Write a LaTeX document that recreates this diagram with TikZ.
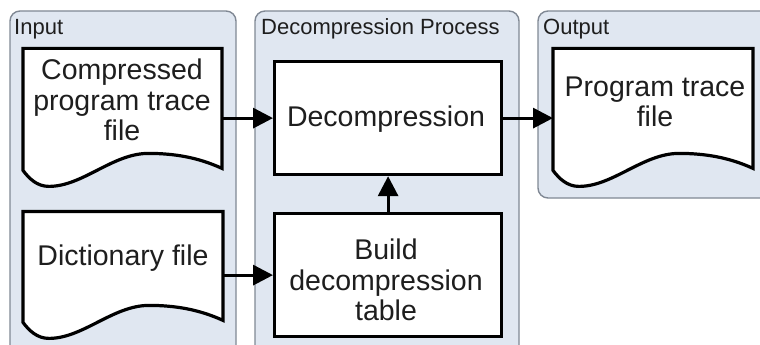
\documentclass[tikz,border=0pt]{standalone}
\usepackage{fontspec}
\setmainfont{Liberation Sans}
\usetikzlibrary{arrows.meta,calc}

\definecolor{groupfill}{RGB}{224,231,241}
\definecolor{groupedge}{RGB}{128,136,148}
\definecolor{inkdark}{RGB}{30,30,30}

\tikzset{
  group/.style={draw=groupedge, line width=1.4pt, fill=groupfill, rounded corners=10pt},
  grouplabel/.style={anchor=base west, inner sep=0pt, text=inkdark,
    font=\fontsize{22}{26}\selectfont},
  procbox/.style={draw=black, line width=3.2pt, fill=white, anchor=north west,
    inner sep=0pt},
  docarea/.style={anchor=north west, inner sep=0pt},
  docline/.style={draw=black, line width=3.2pt, fill=white, line join=miter},
  txt/.style={align=center, inner sep=0pt, text=inkdark,
    font=\fontsize{28.5}{30.5}\selectfont},
  flow/.style={line width=3.2pt, -{Triangle[length=20pt,width=20pt]}},
}

% document symbol with a wavy bottom edge: node name, width, height of the right edge
\newcommand\docoutline[3]{%
  \begin{scope}[shift={(#1.south west)}, x=#2pt, y=-1pt]
    \draw[docline] (0,-#3) -- (1,-#3) -- (1,0)
      .. controls (0.88,-11) and (0.76,-15) .. (0.63,-15)
      .. controls (0.45,-15) and (0.30,18) .. (0.13,18)
      .. controls (0.07,18) and (0.03,10) .. (0,2) -- cycle;
  \end{scope}}

\begin{document}
\begin{tikzpicture}[x=1pt, y=-1pt]
  \clip (0,0) rectangle (760,345);

  % swimlane groups
  \draw[group] (10,11) rectangle (236,365);
  \draw[group] (255,11) rectangle (519,365);
  \draw[group] (538,11) rectangle (790,198);
  \node[grouplabel] (lin) at (14,35) {Input};
  \node[grouplabel] (lproc) at (261,35) {Decompression Process};
  \node[grouplabel] (lout) at (543,35) {Output};

  % document symbols
  \node[docarea, minimum width=199pt, minimum height=120pt] (doc1) at (23,48) {};
  \node[docarea, minimum width=200pt, minimum height=109pt] (doc2) at (23,211) {};
  \node[docarea, minimum width=200pt, minimum height=120pt] (doc3) at (553,48) {};
  \docoutline{doc1}{199}{120}
  \docoutline{doc2}{200}{109}
  \docoutline{doc3}{200}{120}
  \node[txt] (doc1t) at (122,100) {Compressed\\program trace\\file};
  \node[txt] (doc2t) at (123,258) {Dictionary file};
  \node[txt] (doc3t) at (655,102) {Program trace\\file};

  % process steps
  \node[procbox, minimum width=227pt, minimum height=113pt] (dec) at (273,60) {};
  \node[procbox, minimum width=227pt, minimum height=123pt] (build) at (273,212) {};
  \node[txt] (dect) at (386,119) {Decompression};
  \node[txt] (buildt) at (386,280) {Build\\decompression\\table};

  % data flow
  \draw[flow] (dec.west -| doc1.east) -- (dec.west);
  \draw[flow] (build.west -| doc2.east) -- (build.west);
  \draw[flow] (dec.east) -- (dec.east -| doc3.west);
  \draw[flow] (build.north) -- (dec.south);
\end{tikzpicture}
\end{document}
